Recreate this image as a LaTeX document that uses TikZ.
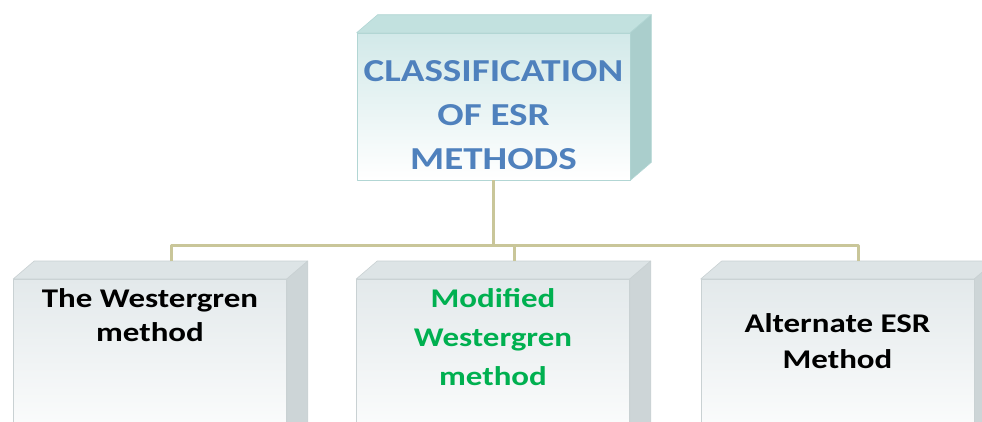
\documentclass[tikz,border=0pt]{standalone}
\usepackage{fontspec}
\setmainfont{Carlito}[FakeStretch=1.22]
\usetikzlibrary{calc,positioning}
\definecolor{esrTeal}{HTML}{D2E9E9}
\definecolor{esrTealLid}{HTML}{C2E1DF}
\definecolor{esrTealSide}{HTML}{AACECC}
\definecolor{esrTealLine}{HTML}{B2D6D4}
\definecolor{esrGrey}{HTML}{E3E9EB}
\definecolor{esrGreyLid}{HTML}{DDE4E6}
\definecolor{esrGreySide}{HTML}{CDD5D7}
\definecolor{esrGreyLine}{HTML}{C9D1D3}
\definecolor{esrBlue}{HTML}{4F81BD}
\definecolor{esrGreen}{HTML}{00B050}
\definecolor{esrLink}{HTML}{C9C699}

\begin{document}
\begin{tikzpicture}[x=1pt,y=-1pt,line join=round]
\path[fill=white] (0,0) rectangle (982,421);
\useasboundingbox (0,0) rectangle (982,421);
\clip (0,0) rectangle (982,421);
\tikzset{front/.style={draw=#1Line,line width=0.6pt,top color=#1,bottom color=white,minimum width=273pt,inner sep=0pt},
  caption/.style={inner sep=0pt,align=center,font=\bfseries\fontsize{27pt}{#1}\selectfont},
  link/.style={draw=esrLink,line width=3pt}}
% front faces
\node[front=esrTeal,minimum height=147pt] (top) at (493.5,106.5) {};
\node[front=esrGrey,minimum height=175pt,anchor=north] (west) at (150,279) {};
\node[front=esrGrey,minimum height=175pt,anchor=north] (mid) at (493,279) {};
\node[front=esrGrey,minimum height=175pt,anchor=north] (east) at (837.5,279) {};
% lids and sides
\foreach \bx/\lidc/\sidec/\edgec in {top/esrTealLid/esrTealSide/esrTealLine,west/esrGreyLid/esrGreySide/esrGreyLine,mid/esrGreyLid/esrGreySide/esrGreyLine,east/esrGreyLid/esrGreySide/esrGreyLine}{
  \path[fill=\lidc,draw=\edgec,line width=0.6pt] (\bx.north west) -- ++(21,-18) -- ([shift={(21,-18)}]\bx.north east) -- (\bx.north east) -- cycle;
  \path[fill=\sidec,draw=\edgec,line width=0.6pt] (\bx.north east) -- ++(21,-18) -- ([shift={(21,-18)}]\bx.south east) -- (\bx.south east) -- cycle;
}
% connectors
\coordinate (fork) at ($(top.south)+(0,65)$);
\draw[link] (top.south) -- (fork);
\draw[link] ([shift={(21,-18)}]west.north) |- (fork) -| ([shift={(21,-18)}]east.north);
\draw[link] (fork) -| ([shift={(21,-18)}]mid.north);
% texts
\node[caption=44pt,text=esrBlue,font=\bfseries\fontsize{32pt}{44pt}\selectfont] (topText) at ([yshift=-9pt]top.center) {CLASSIFICATION\\OF ESR\\METHODS};
\node[caption=34pt,anchor=north] (westText) at ([yshift=-9pt]west.north) {The Westergren\\method};
\node[caption=39pt,anchor=north,text=esrGreen] (midText) at ([yshift=-9pt]mid.north) {Modified\\Westergren\\method};
\node[caption=36pt,anchor=north] (eastText) at ([yshift=-34pt]east.north) {Alternate ESR\\Method};
\end{tikzpicture}
\end{document}
